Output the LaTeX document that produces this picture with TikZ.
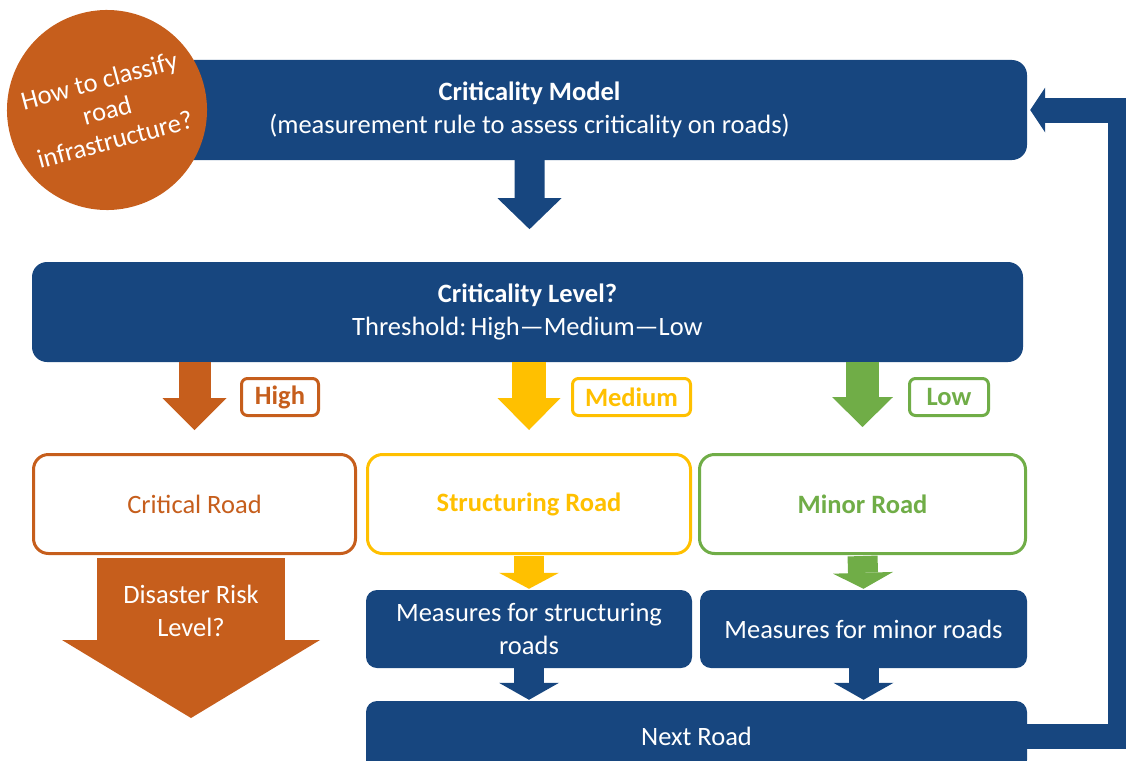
\documentclass[tikz,border=0pt]{standalone}
\usepackage{fontspec}
\setmainfont{Carlito}
\usetikzlibrary{arrows.meta,calc}

\definecolor{roadblue}{RGB}{23,70,127}
\definecolor{roadorange}{RGB}{198,94,28}
\definecolor{roadyellow}{RGB}{255,192,0}
\definecolor{roadgreen}{RGB}{112,173,71}

\begin{document}
\begin{tikzpicture}[x=1pt,y=-1pt,
  every node/.style={font=\fontsize{26.5}{32.5}\selectfont, align=center, inner sep=0pt},
  panel/.style={fill=roadblue, text=white, rounded corners=15pt},
  measure/.style={fill=roadblue, text=white, rounded corners=11pt, minimum height=78pt},
  roadbox/.style={draw=#1, line width=3pt, fill=white, rounded corners=15pt,
    minimum height=99pt, text=#1},
  tag/.style={draw=#1, line width=3pt, fill=white, rounded corners=6pt,
    minimum height=37pt, text=#1, font=\fontsize{26.5}{32.5}\selectfont\bfseries},
  blockarrow/.style args={#1/#2/#3}{line width=#1,
    -{Triangle[width=#2, length=#3, line width=0pt]}},
]
\useasboundingbox (0,0) rectangle (1126,760);
\clip (0,0) rectangle (1126,760);

% main panels
\node[panel, minimum width=995pt, minimum height=100pt] (model) at (529.5,110)
  {\textbf{Criticality Model}\\(measurement rule to assess criticality on roads)};
\node[panel, minimum width=991pt, minimum height=100pt] (level) at (527.5,312)
  {\textbf{Criticality Level?}\\Threshold:\,High---Medium---Low};

% question bubble
\node[circle, fill=roadorange, minimum size=200pt, text=white, rotate=15,
  font=\fontsize{26.5}{30.5}\selectfont] (question) at (107,110)
  {How to classify\\road\\infrastructure?};

% road categories
\node[roadbox=roadorange, minimum width=322pt] (critical) at (194.5,504) {Critical Road};
\node[roadbox=roadyellow, minimum width=323pt, font=\fontsize{26.5}{32.5}\selectfont\bfseries]
  (structuring) at (529,504) {Structuring Road};
\node[roadbox=roadgreen, minimum width=326pt, font=\fontsize{26.5}{32.5}\selectfont\bfseries]
  (minor) at (862.5,504) {Minor Road};

% threshold tags
\node[tag=roadorange, minimum width=77pt] (high) at (280,397) {High};
\node[tag=roadyellow, minimum width=118pt] (medium) at (631.5,397) {Medium};
\node[tag=roadgreen, minimum width=79pt] (low) at (949,397) {Low};

% measures and next road
\node[measure, minimum width=326pt] (mstruct) at (529,629) {Measures for structuring\\roads};
\node[measure, minimum width=327pt] (mminor) at (863.5,629) {Measures for minor roads};
\node[panel, rounded corners=11pt, minimum width=661pt, minimum height=70pt] (next) at (696.5,736) {Next Road};

% block arrow from the model down to the level panel
\fill[roadblue] ($(model.south)+(-15,-2)$) -- ($(model.south)+(-15,38)$)
  -- ($(model.south)+(-32,38)$) -- ($(model.south)+(0,69)$)
  -- ($(model.south)+(32,38)$) -- ($(model.south)+(15,38)$)
  -- ($(model.south)+(15,-2)$) -- cycle;

% block arrows to the categories
\draw[roadorange, blockarrow=32pt/64pt/32pt, shorten >=23pt] (level.south -| critical.north) -- (critical.north);
\draw[roadyellow, blockarrow=34pt/63pt/32pt, shorten >=23pt] (level.south -| structuring.north) -- (structuring.north);
\draw[roadgreen, blockarrow=33pt/61pt/30pt, shorten >=26pt] (level.south -| minor.north) -- (minor.north);

\draw[roadyellow, blockarrow=30pt/60pt/16pt, shorten <=1pt, shorten >=1pt] (structuring.south) -- (mstruct.north);
\draw[roadgreen, blockarrow=30pt/60pt/16pt, shorten <=1pt, shorten >=1pt] (minor.south) -- (mminor.north);
\draw[roadblue, blockarrow=30pt/60pt/17pt, shorten >=1pt] (mstruct.south) -- (mstruct.south |- next.north);
\draw[roadblue, blockarrow=30pt/60pt/17pt, shorten >=1pt] (mminor.south) -- (mminor.south |- next.north);

% disaster risk arrow
\coordinate (risktip) at ($(critical.south)+(-3.5,163)$);
\draw[roadorange, blockarrow=188pt/258pt/78pt, shorten <=3pt] (critical.south -| risktip) -- (risktip);
\node[text=white] (risk) at (191,611) {Disaster Risk\\Level?};

% loop back to the model
\draw[roadblue, line width=25pt, -{Triangle[width=45pt, length=15pt, line width=0pt]},
  shorten >=3pt] (next.east) -- ++(93.5,0) |- (model.east);
\end{tikzpicture}
\end{document}
